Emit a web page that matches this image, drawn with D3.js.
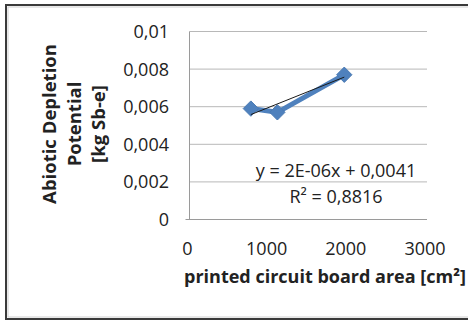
<!DOCTYPE html>
<html><head><meta charset="utf-8">
<script src="https://cdn.jsdelivr.net/npm/d3@7"></script>
<style>
html,body{margin:0;padding:0;background:#fff;}
svg{display:block;}
text{font-family:"Open Sans",sans-serif;fill:#222;}
</style></head>
<body>
<script>
const areas = [775, 1110, 1955];
const adp = [0.0059, 0.0057, 0.0077];
const xTicks = [0, 1000, 2000, 3000];
const xTickLabels = ["0", "1000", "2000", "3000"];
const yTicks = [0, 0.002, 0.004, 0.006, 0.008, 0.01];
const yTickLabels = ["0", "0,002", "0,004", "0,006", "0,008", "0,01"];
const yTitleLines = ["Abiotic Depletion", "Potential", "[kg Sb-e]"];
const xTitle = "printed circuit board area [cm²]";
const trendLabels = ["y = 2E-06x + 0,0041", "R² = 0,8816"];

const W = 468, H = 321;
const svg = d3.select("body").append("svg").attr("width", W).attr("height", H);

// outer chart border
svg.append("rect").attr("x", 6).attr("y", 5).attr("width", 480).attr("height", 314)
  .attr("fill", "#fff").attr("stroke", "#3a3a3a").attr("stroke-width", 2);
svg.append("rect").attr("x", 8).attr("y", 7).attr("width", 480).attr("height", 310)
  .attr("fill", "none").attr("stroke", "#d0d0d0").attr("stroke-width", 1);

const x = d3.scaleLinear().domain([0, 3000]).range([189.5, 427]);
const y = d3.scaleLinear().domain([0, 0.01]).range([219.5, 31.5]);

// gridlines
svg.append("g").selectAll("line").data(yTicks).join("line")
  .attr("x1", d => d === 0 ? x(0) - 4 : x(0)).attr("x2", x(3000))
  .attr("y1", d => y(d)).attr("y2", d => y(d))
  .attr("stroke", d => d === 0 ? "#9a9a9a" : "#b8b8b8").attr("stroke-width", 1);
// y axis line
svg.append("line").attr("x1", x(0)).attr("x2", x(0)).attr("y1", y(0.01)).attr("y2", y(0))
  .attr("stroke", "#9a9a9a");

// y tick labels
svg.append("g").selectAll("text").data(yTicks).join("text")
  .attr("x", 169).attr("y", d => y(d)).attr("dy", "0.36em")
  .attr("text-anchor", "end").attr("font-size", 18)
  .text((d, i) => yTickLabels[i]);

// x tick labels
svg.append("g").selectAll("text").data(xTicks).join("text")
  .attr("x", d => x(d) - 2).attr("y", 255)
  .attr("text-anchor", "middle").attr("font-size", 18)
  .text((d, i) => xTickLabels[i]);

// axis titles
svg.append("text").attr("x", 325).attr("y", 283).attr("text-anchor", "middle")
  .attr("font-size", 18).attr("font-weight", "bold").attr("fill", "#111").text(xTitle);

const yt = svg.append("text").attr("transform", "translate(0,124) rotate(-90)")
  .attr("text-anchor", "middle").attr("font-size", 18.5).attr("font-weight", "bold").attr("fill", "#111");
yTitleLines.forEach((l, i) => {
  yt.append("tspan").attr("x", 0).attr("y", 56 + i * 24.5).text(l);
});

// series
const pts = areas.map((a, i) => [a, adp[i]]);
svg.append("path").datum(pts)
  .attr("d", d3.line().x(d => x(d[0])).y(d => y(d[1])))
  .attr("fill", "none").attr("stroke", "#4f81bd").attr("stroke-width", 5)
  .attr("stroke-linejoin", "round");
svg.append("g").selectAll("path").data(pts).join("path")
  .attr("transform", d => `translate(${x(d[0])},${y(d[1])})`)
  .attr("d", d3.symbol(d3.symbolDiamond2, 150)())
  .attr("fill", "#4f81bd").attr("stroke", "#4a7ab3").attr("stroke-width", 1);

// linear trendline (least squares from data)
const mx = d3.mean(areas), my = d3.mean(adp);
const sxy = d3.sum(areas, (a, i) => (a - mx) * (adp[i] - my));
const sxx = d3.sum(areas, a => (a - mx) * (a - mx));
const slope = sxy / sxx, icpt = my - slope * mx;
const xr = d3.extent(areas);
svg.append("line")
  .attr("x1", x(xr[0])).attr("y1", y(icpt + slope * xr[0]))
  .attr("x2", x(xr[1])).attr("y2", y(icpt + slope * xr[1]))
  .attr("stroke", "#1a1a1a").attr("stroke-width", 1);

// trendline label
svg.append("text").attr("x", 336).attr("y", 177).attr("text-anchor", "middle")
  .attr("font-size", 18).text(trendLabels[0]);
svg.append("text").attr("x", 336).attr("y", 203).attr("text-anchor", "middle")
  .attr("font-size", 18).text(trendLabels[1]);
</script>
</body></html>
